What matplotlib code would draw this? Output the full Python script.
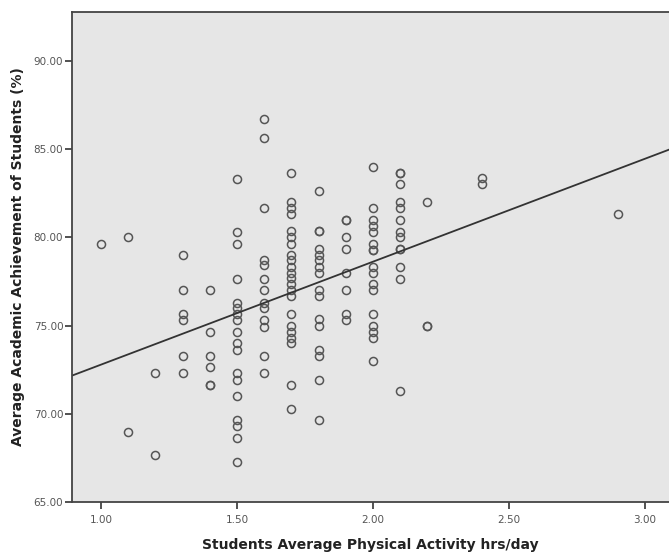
import matplotlib

matplotlib.use("Agg")
import matplotlib.pyplot as plt
import numpy as np

# physical activity (hrs/day) and achievement (%) for each student, by column
activity_levels = [1.0, 1.1, 1.2, 1.3, 1.4, 1.5, 1.6, 1.7, 1.8, 1.9, 2.0, 2.1, 2.2, 2.4, 2.9]
achievement_by_level = [
    [79.65],
    [80.0, 69.0],
    [72.3, 67.65],
    [79.0, 77.0, 75.65, 75.3, 73.3, 72.3],
    [77.0, 74.65, 73.3, 72.65, 71.65, 71.65],
    [83.3, 80.3, 79.65, 77.65, 76.3, 76.0, 75.65, 75.3, 74.65, 74.0, 73.65,
     72.3, 71.95, 71.0, 69.65, 69.3, 68.65, 67.3],
    [86.7, 85.65, 81.65, 78.7, 78.45, 77.65, 77.0, 76.3, 76.0, 75.3, 74.95,
     73.3, 72.3],
    [83.65, 82.0, 81.65, 81.35, 80.35, 80.0, 79.65, 79.0, 78.7, 78.35, 78.0,
     77.7, 77.35, 77.0, 76.7, 75.65, 75.0, 74.65, 74.3, 74.0, 71.65, 70.3],
    [82.65, 80.35, 80.35, 79.35, 79.0, 78.7, 78.35, 78.0, 77.0, 76.7, 75.35,
     75.0, 73.65, 73.3, 71.95, 69.65],
    [81.0, 81.0, 80.0, 79.35, 78.0, 77.0, 75.65, 75.3],
    [84.0, 81.65, 81.0, 80.65, 80.3, 79.65, 79.3, 79.3, 78.35, 78.0, 77.35,
     77.0, 75.65, 75.0, 74.65, 74.3, 73.0],
    [83.65, 83.65, 83.0, 82.0, 81.65, 81.0, 80.3, 80.0, 79.35, 79.35, 78.3,
     77.65, 71.3],
    [82.0, 75.0, 75.0],
    [83.35, 83.0],
    [81.3],
]

x_ticks = [1.0, 1.5, 2.0, 2.5, 3.0]
y_ticks = [65, 70, 75, 80, 85, 90]

activity = np.concatenate(
    [[level] * len(vals) for level, vals in zip(activity_levels, achievement_by_level)]
)
achievement = np.concatenate(achievement_by_level)

fig = plt.figure(figsize=(6.69, 5.55), dpi=100)
ax = fig.add_axes([0.107, 0.095, 0.893, 0.884])
ax.set_facecolor("#e6e6e6")

ax.plot(
    activity,
    achievement,
    linestyle="none",
    marker="o",
    markersize=5.8,
    markerfacecolor="none",
    markeredgecolor="#555555",
    markeredgewidth=1.1,
)

# linear fit line across the whole x range
slope, intercept = np.polyfit(activity, achievement, 1)
x_min, x_max = 0.892, 3.088
xs = np.array([x_min, x_max])
ax.plot(xs, slope * xs + intercept, color="#333333", linewidth=1.3)

ax.set_xlim(x_min, x_max)
ax.set_ylim(65, 92.78)
ax.set_xticks(x_ticks)
ax.set_xticklabels(["%.2f" % v for v in x_ticks])
ax.set_yticks(y_ticks)
ax.set_yticklabels(["%.2f" % v for v in y_ticks])

ax.tick_params(axis="both", direction="out", length=5, width=1.2, color="#333333",
               labelsize=7.5, labelcolor="#555555")
ax.tick_params(axis="x", pad=4)
ax.tick_params(axis="y", pad=1)

for side in ["left", "bottom", "top"]:
    ax.spines[side].set_color("#444444")
    ax.spines[side].set_linewidth(1.3)
ax.spines["right"].set_visible(False)

ax.set_xlabel("Students Average Physical Activity hrs/day", fontsize=10,
              fontweight="bold", color="#222222")
ax.set_ylabel("Average Academic Achievement of Students (%)", fontsize=10,
              fontweight="bold", color="#222222", labelpad=6)
ax.xaxis.set_label_coords(0.5, -0.073)

fig.savefig("out.png", dpi=100)
